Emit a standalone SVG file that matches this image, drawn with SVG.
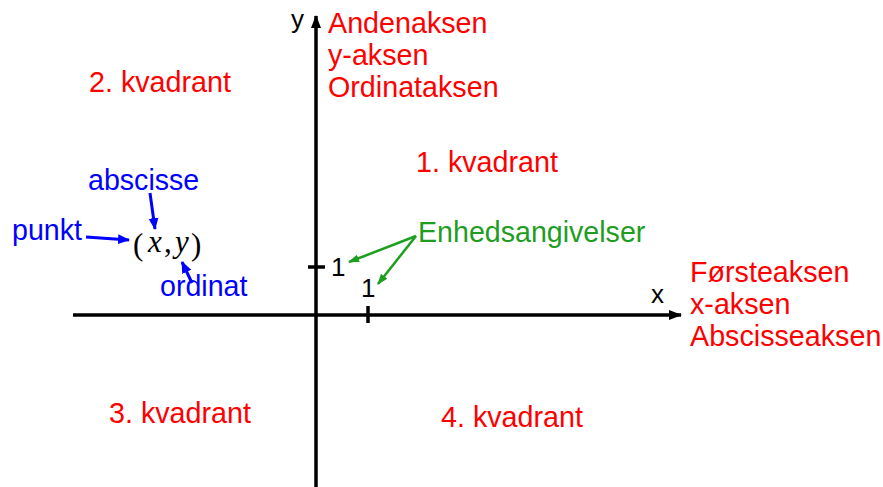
<svg xmlns="http://www.w3.org/2000/svg" width="883" height="487" viewBox="0 0 883 487">
<style>
.red{fill:#FF0000;font-family:"Liberation Sans",Arial,sans-serif;font-size:28.7px}
.blue{fill:#0000FF;font-family:"Liberation Sans",Arial,sans-serif;font-size:28.6px}
.green{fill:#1E9E1E;font-family:"Liberation Sans",Arial,sans-serif;font-size:28.6px}
.blk{fill:#000;font-family:"Liberation Sans",Arial,sans-serif;font-size:26px}
.math{fill:#000;font-family:"Liberation Serif","Times New Roman",serif;font-size:31px}
.axis{stroke:#000;stroke-width:3.5;fill:none}
.tick{stroke:#000;stroke-width:3.5}
.barr{stroke:#0000FF;stroke-width:3;fill:none}
.garr{stroke:#1E9E1E;stroke-width:2.5;fill:none}
</style>
<defs>
<marker id="ah" markerUnits="userSpaceOnUse" markerWidth="14" markerHeight="10" refX="12" refY="5" orient="auto"><path d="M0,0 L13,5 L0,10 Z" fill="#000"/></marker>
<marker id="ab" markerUnits="userSpaceOnUse" markerWidth="13" markerHeight="11" refX="11" refY="5.5" orient="auto"><path d="M0,0.5 L12,5.5 L0,10.5 Z" fill="#0000FF"/></marker>
<marker id="ag" markerUnits="userSpaceOnUse" markerWidth="12" markerHeight="10" refX="10" refY="5" orient="auto"><path d="M0,1 L11,5 L0,9 Z" fill="#1E9E1E"/></marker>
</defs>
<g id="connectors">
<line class="axis" x1="73" y1="315" x2="681" y2="315" marker-end="url(#ah)"/>
<line class="axis" x1="316" y1="487" x2="316" y2="16" marker-end="url(#ah)"/>
<line class="tick" x1="308" y1="267" x2="325" y2="267"/>
<line class="tick" x1="368" y1="306" x2="368" y2="323"/>
<line class="barr" x1="86" y1="237" x2="129" y2="240" marker-end="url(#ab)"/>
<line class="barr" x1="150" y1="193" x2="155" y2="229" marker-end="url(#ab)"/>
<line class="barr" x1="192" y1="283" x2="182" y2="262" marker-end="url(#ab)"/>
<line class="garr" x1="416" y1="236" x2="349" y2="262" marker-end="url(#ag)"/>
<line class="garr" x1="416" y1="236" x2="378" y2="284" marker-end="url(#ag)"/>
</g>
<g id="y-label"><text class="blk" x="291" y="28">y</text></g>
<g id="x-label"><text class="blk" x="651" y="303">x</text></g>
<g id="y-axis-names">
<text class="red" x="328" y="33" font-size="28">Andenaksen</text>
<text class="red" x="328" y="65" font-size="28">y-aksen</text>
<text class="red" x="328" y="97" font-size="28">Ordinataksen</text>
</g>
<g id="x-axis-names">
<text class="red" x="690" y="282">Førsteaksen</text>
<text class="red" x="690" y="314">x-aksen</text>
<text class="red" x="690" y="346">Abscisseaksen</text>
</g>
<g id="q1"><text class="red" x="416" y="172">1. kvadrant</text></g>
<g id="q2"><text class="red" x="89" y="92">2. kvadrant</text></g>
<g id="q3"><text class="red" x="109" y="423">3. kvadrant</text></g>
<g id="q4"><text class="red" x="441" y="427">4. kvadrant</text></g>
<g id="abscisse"><text class="blue" x="88" y="190">abscisse</text></g>
<g id="punkt"><text class="blue" x="12" y="240">punkt</text></g>
<g id="ordinat"><text class="blue" x="160" y="296">ordinat</text></g>
<g id="point">
<text class="math" x="133" y="255" font-size="38" font-weight="300">(</text>
<text class="math" x="148" y="252" font-style="italic">x</text>
<text class="math" x="164" y="252">,</text>
<text class="math" x="175" y="252" font-style="italic">y</text>
<text class="math" x="191" y="255" font-size="38" font-weight="300">)</text>
</g>
<g id="units">
<text class="green" x="418" y="242">Enhedsangivelser</text>
<text class="blk" x="331" y="276">1</text>
<text class="blk" x="361" y="297">1</text>
</g>
</svg>
